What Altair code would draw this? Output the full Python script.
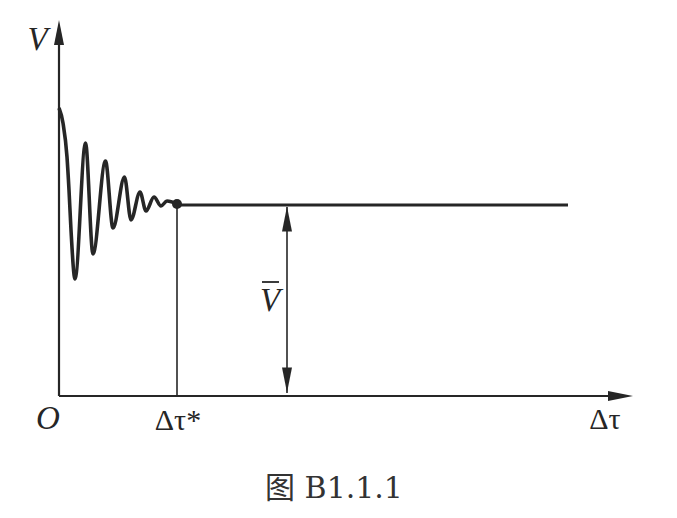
import altair as alt
import pandas as pd

# Curve (damped oscillation); x in px-from-axis, y in px-above-axis
curve_x = [0, 4, 8, 10, 12, 16, 26.5, 34, 46.5, 54, 65.5, 72, 81, 87, 95, 102, 108, 118]
curve_y = [288, 273, 239, 206, 166, 117, 253, 142, 235, 168, 219, 176, 204, 185, 199, 190, 195, 192]

# Steady level and key positions
level_y = 191
tau_star_x = 118
level_end_x = 509
vbar_x = 228
x_axis_end = 574
y_axis_end = 376

# Labels
label_text = ["V", "O", "Δτ*", "Δτ", "V"]
label_x = [-21.5, -11, 119, 546, 211]
label_y = [356, -23, -25, -24, 95]
label_italic = ["italic", "italic", "normal", "normal", "italic"]
caption = "图 B1.1.1"

W, H = 661, 502
xs = alt.Scale(domain=[-51, 610], zero=False, nice=False)
ys = alt.Scale(domain=[-114, 388], zero=False, nice=False)
X = lambda f: alt.X(f, type="quantitative", scale=xs, axis=None)
Y = lambda f: alt.Y(f, type="quantitative", scale=ys, axis=None)
ink = "#262626"

curve_df = pd.DataFrame({"x": curve_x, "y": curve_y})
curve = alt.Chart(curve_df).mark_line(color=ink, strokeWidth=3.6, interpolate="monotone").encode(
    x=X("x"), y=Y("y"))

seg_df = pd.DataFrame({
    "x": [0, 0, tau_star_x, tau_star_x, vbar_x],
    "y": [0, 0, level_y, level_y, 3],
    "x2": [x_axis_end - 10, 0, level_end_x, tau_star_x, vbar_x],
    "y2": [0, y_axis_end - 10, level_y, 0, level_y - 2],
    "w": [2.2, 2.2, 2.8, 1.6, 1.6],
})
segs = alt.Chart(seg_df).mark_rule(color=ink).encode(
    x=X("x"), y=Y("y"), x2="x2", y2="y2",
    strokeWidth=alt.StrokeWidth("w:Q", scale=None))

dot_df = pd.DataFrame({"x": [tau_star_x], "y": [level_y + 1]})
dot = alt.Chart(dot_df).mark_point(filled=True, color=ink, size=100, opacity=1, shape="circle").encode(
    x=X("x"), y=Y("y"))

up = "M0,-1L0.4,1L-0.4,1Z"
down = "M0,1L0.4,-1L-0.4,-1Z"
right = "M1,0L-1,-0.4L-1,0.4Z"
arrows = []
for ax, ay, shp in [(0, y_axis_end - 12.5, up), (x_axis_end - 12.5, 0, right),
                    (vbar_x, level_y - 14, up), (vbar_x, 16, down)]:
    arrows.append(alt.Chart(pd.DataFrame({"x": [ax], "y": [ay]})).mark_point(
        shape=shp, filled=True, color=ink, size=625, opacity=1, strokeWidth=0).encode(x=X("x"), y=Y("y")))

lab_df = pd.DataFrame({"t": label_text, "x": label_x, "y": label_y, "s": label_italic})
labels_it = alt.Chart(lab_df[lab_df.s == "italic"]).mark_text(
    font="Liberation Serif", fontSize=33, fontStyle="italic", color=ink, align="center", baseline="middle").encode(
    x=X("x"), y=Y("y"), text="t")
labels_up = alt.Chart(lab_df[lab_df.s == "normal"]).mark_text(
    font="Liberation Serif", fontSize=30, color=ink, align="center", baseline="middle").encode(
    x=X("x"), y=Y("y"), text="t")

over_df = pd.DataFrame({"x": [203], "x2": [220], "y": [114]})
overline = alt.Chart(over_df).mark_rule(color=ink, strokeWidth=1.8).encode(x=X("x"), x2="x2", y=Y("y"))

cap_df = pd.DataFrame({"t": [caption], "x": [275], "y": [-93]})
cap = alt.Chart(cap_df).mark_text(
    font="DejaVu Serif, Noto Sans CJK SC", fontSize=30, color="#333333", align="center", baseline="middle").encode(
    x=X("x"), y=Y("y"), text="t")

chart = alt.layer(segs, curve, dot, *arrows, labels_it, labels_up, overline, cap).properties(
    width=W, height=H, autosize=alt.AutoSizeParams(type="none"), padding=0, background="white"
).configure_view(stroke=None)

chart.save("out.html", embed_options={"renderer": "svg", "actions": False})
